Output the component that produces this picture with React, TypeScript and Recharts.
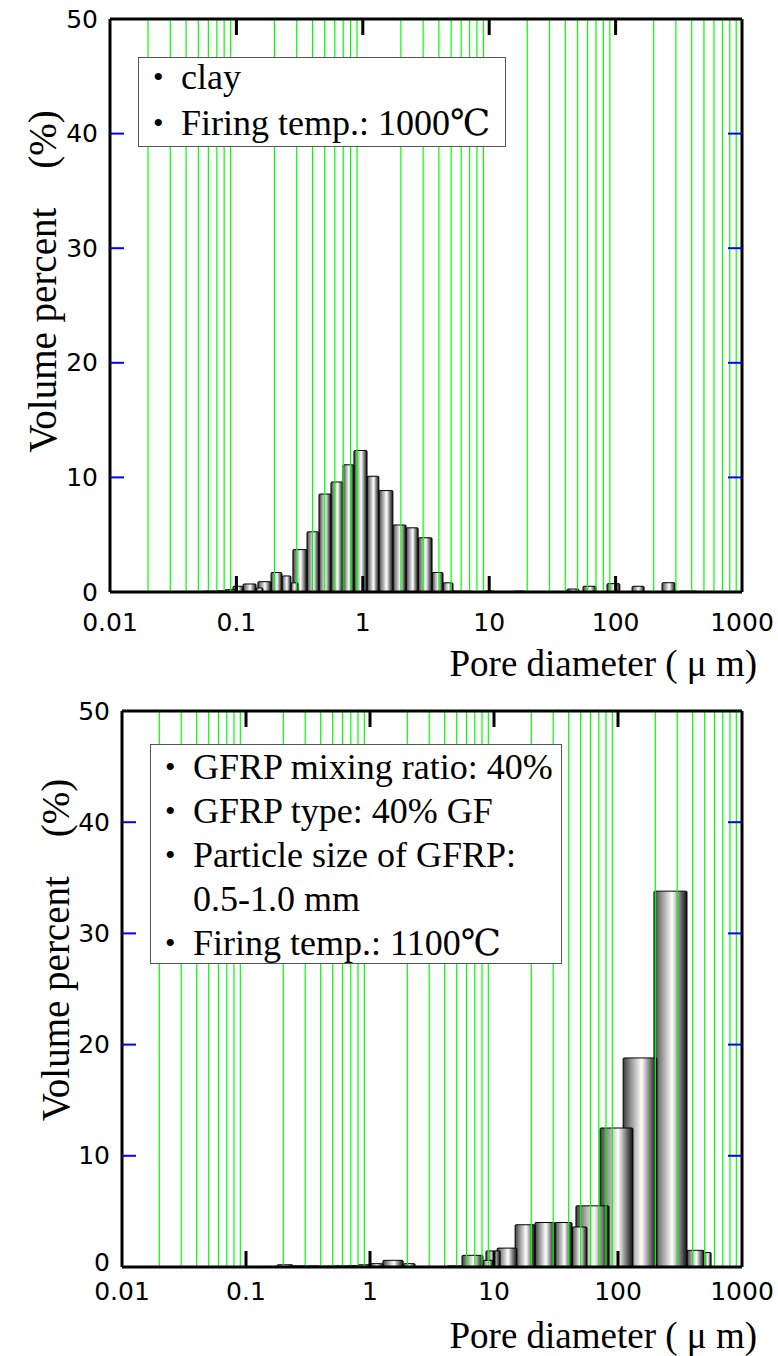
import React from "react";
import { ComposedChart, XAxis, YAxis, ReferenceArea, ReferenceLine, Label, Scatter } from "recharts";

const SERIF = '"Liberation Serif", "DejaVu Serif", "Times New Roman", "Noto Sans CJK JP", serif';
const SANS = '"DejaVu Sans", sans-serif';

const diameterTicks = [0.01, 0.1, 1, 10, 100, 1000];
const diameterTickLabels = ["0.01", "0.1", "1", "10", "100", "1000"];
const minorGrid = [0.01, 0.1, 1, 10, 100].flatMap((d) =>
  [2, 3, 4, 5, 6, 7, 8, 9].map((m) => +(d * m).toPrecision(2))
);
const percentTicks = [0, 10, 20, 30, 40, 50];
const percentTickLabels = ["0", "10", "20", "30", "40", "50"];

// clay fired at 1000C: pore-diameter bins (um) and volume percent
const clayBinFrom = [0.039, 0.047, 0.055, 0.068, 0.081, 0.094, 0.113, 0.143, 0.148, 0.188, 0.229, 0.27, 0.28, 0.362, 0.45, 0.56, 0.697, 0.851, 1.08, 1.34, 1.73, 2.2, 2.74, 3.53, 4.31, 5.08, 6.09, 9.26, 15.4, 41.3, 55.2, 85.5, 135, 233, 323];
const clayBinTo = [0.047, 0.055, 0.068, 0.081, 0.101, 0.113, 0.143, 0.162, 0.188, 0.229, 0.27, 0.307, 0.362, 0.45, 0.56, 0.697, 0.851, 1.08, 1.34, 1.73, 2.2, 2.74, 3.53, 4.31, 5.17, 6.09, 7.31, 11.1, 19.2, 51.3, 70, 108, 168, 295, 441];
const clayVolume = [0.05, 0.05, 0.08, 0.1, 0.2, 0.5, 0.7, 0.35, 0.9, 1.7, 1.4, 0.8, 3.7, 5.25, 8.55, 9.6, 11.1, 12.35, 10.1, 8.85, 5.85, 5.6, 4.73, 1.7, 0.8, 0.08, 0.08, 0.08, 0.08, 0.26, 0.5, 0.73, 0.5, 0.81, 0.08];

// GFRP 40% mix fired at 1100C
const gfrpBinFrom = [0.13, 0.178, 0.239, 0.31, 0.395, 0.503, 0.653, 0.8, 1.0, 1.27, 1.85, 2.31, 3.22, 4.18, 5.52, 8.15, 8.61, 10.6, 14.8, 21.4, 31, 42.6, 45.8, 71.6, 110, 195, 360, 494];
const gfrpBinTo = [0.178, 0.239, 0.31, 0.395, 0.503, 0.653, 0.8, 1.0, 1.27, 1.85, 2.31, 3.22, 4.18, 5.52, 8.15, 9.82, 11.2, 15.3, 21.4, 31, 42.6, 56.2, 84.6, 132, 206, 360, 494, 563];
const gfrpVolume = [0.05, 0.2, 0.1, 0.1, 0.08, 0.1, 0.12, 0.2, 0.3, 0.6, 0.3, 0.05, 0.05, 0.1, 1.05, 0.6, 1.45, 1.7, 3.8, 4.0, 4.0, 3.6, 5.5, 12.5, 18.8, 33.8, 1.5, 1.3];

const clayNotes = [
  { bullet: true, text: "clay" },
  { bullet: true, text: "Firing temp.: 1000℃" },
];
const gfrpNotes = [
  { bullet: true, text: "GFRP mixing ratio: 40%" },
  { bullet: true, text: "GFRP type: 40% GF" },
  { bullet: true, text: "Particle size of GFRP:" },
  { bullet: false, text: "0.5-1.0 mm" },
  { bullet: true, text: "Firing temp.: 1100℃" },
];

const border = { stroke: "#000", strokeWidth: 3 };

type PanelProps = {
  id: string;
  height: number;
  margin: { top: number; right: number; bottom: number; left: number };
  yAxisWidth: number;
  from: number[];
  to: number[];
  volume: number[];
  xTickGap: number;
  zeroLift: number;
  xTitleGap: number;
  yTitleX: number;
  yTitleShift: number;
};

function PorePanel(p: PanelProps) {
  const gid = `cyl-${p.id}`;
  // right-most first so the smaller left bins end up in front
  const bins = p.from.map((lo, i) => ({ lo, hi: p.to[i], v: p.volume[i] })).reverse();

  const Cylinder = (s: any) => {
    const { x, y, width, height } = s;
    if (x == null || width == null || isNaN(x)) return null;
    return (
      <rect x={x} y={y} width={width} height={Math.max(height, 0.5)} fill={`url(#${gid})`} stroke="#000" strokeWidth={1} rx={1} />
    );
  };

  const bottomTick = (t: any) => {
    const i = diameterTicks.indexOf(t.payload.value);
    const inner = i > 0 && i < diameterTicks.length - 1;
    return (
      <g>
        {inner && <line x1={t.x} x2={t.x} y1={t.y} y2={t.y - 16} stroke="#000" strokeWidth={3} />}
        <text x={t.x} y={t.y + p.xTickGap} textAnchor="middle" dominantBaseline="central" fontFamily={SANS} fontSize={25} fill="#000">
          {diameterTickLabels[i]}
        </text>
      </g>
    );
  };
  const topTick = (t: any) => {
    const i = diameterTicks.indexOf(t.payload.value);
    if (i <= 0 || i >= diameterTicks.length - 1) return <g />;
    return <line x1={t.x} x2={t.x} y1={t.y} y2={t.y + 16} stroke="#000" strokeWidth={3} />;
  };
  const leftTick = (t: any) => {
    const i = percentTicks.indexOf(t.payload.value);
    const inner = i > 0 && i < percentTicks.length - 1;
    const ty = i === 0 ? t.y - p.zeroLift : t.y;
    return (
      <g>
        {inner && <line x1={t.x} x2={t.x + 14} y1={t.y} y2={t.y} stroke="#0000ff" strokeWidth={2} />}
        <text x={t.x - 12} y={ty} textAnchor="end" dominantBaseline="central" fontFamily={SANS} fontSize={25} fill="#000">
          {percentTickLabels[i]}
        </text>
      </g>
    );
  };
  const rightTick = (t: any) => {
    const i = percentTicks.indexOf(t.payload.value);
    if (i <= 0 || i >= percentTicks.length - 1) return <g />;
    return <line x1={t.x} x2={t.x - 14} y1={t.y} y2={t.y} stroke="#0000ff" strokeWidth={2} />;
  };

  return (
    <ComposedChart width={778} height={p.height} margin={p.margin} data={bins}>
      <defs>
        <linearGradient id={gid} x1="0" y1="0" x2="1" y2="0">
          <stop offset="0%" stopColor="#3c3c3c" />
          <stop offset="20%" stopColor="#8a8a8a" />
          <stop offset="55%" stopColor="#ffffff" />
          <stop offset="85%" stopColor="#5a5a5a" />
          <stop offset="100%" stopColor="#111111" />
        </linearGradient>
      </defs>
      <XAxis
        dataKey="lo"
        type="number"
        scale="log"
        domain={[0.01, 1000]}
        allowDataOverflow
        ticks={diameterTicks}
        interval={0}
        height={60}
        tickSize={0}
        tickMargin={0}
        axisLine={border}
        tickLine={false}
        tick={bottomTick}
      >
        <Label
          content={(lp: any) => {
            const vb = lp.viewBox;
            return (
              <text x={vb.x + vb.width + 15} y={vb.y + p.xTitleGap} textAnchor="end" dominantBaseline="central" fontFamily={SERIF} fontSize={37} fill="#000">
                Pore diameter ( μ m)
              </text>
            );
          }}
        />
      </XAxis>
      <XAxis
        xAxisId="top"
        dataKey="lo"
        orientation="top"
        type="number"
        scale="log"
        domain={[0.01, 1000]}
        allowDataOverflow
        ticks={diameterTicks}
        interval={0}
        height={2}
        tickSize={0}
        tickMargin={0}
        axisLine={border}
        tickLine={false}
        tick={topTick}
      />
      <YAxis
        dataKey="v"
        type="number"
        domain={[0, 50]}
        allowDataOverflow
        ticks={percentTicks}
        interval={0}
        width={p.yAxisWidth}
        tickSize={0}
        tickMargin={0}
        axisLine={border}
        tickLine={false}
        tick={leftTick}
      >
        <Label
          content={(lp: any) => {
            const vb = lp.viewBox;
            const cy = vb.y + vb.height / 2 + p.yTitleShift;
            return (
              <text
                x={p.yTitleX}
                y={cy}
                transform={`rotate(-90 ${p.yTitleX} ${cy})`}
                textAnchor="middle"
                dominantBaseline="central"
                fontFamily={SERIF}
                fontSize={39}
                fill="#000"
                style={{ whiteSpace: "pre" }}
              >
                {"Volume percent    (%)"}
              </text>
            );
          }}
        />
      </YAxis>
      <YAxis
        yAxisId="right"
        dataKey="v"
        orientation="right"
        type="number"
        domain={[0, 50]}
        allowDataOverflow
        ticks={percentTicks}
        interval={0}
        width={2}
        tickSize={0}
        tickMargin={0}
        axisLine={border}
        tickLine={false}
        tick={rightTick}
      />
      {minorGrid.map((v) => (
        <ReferenceLine key={`g${v}`} x={v} stroke="#00ff00" strokeWidth={1.2} />
      ))}
      {bins.map((b, i) => (
        <ReferenceArea key={`b${i}`} x1={b.lo} x2={b.hi} y1={0} y2={b.v} shape={<Cylinder />} ifOverflow="visible" />
      ))}
      {/* anchor series for the axes; the cylinders themselves are the reference areas */}
      <Scatter dataKey="v" isAnimationActive={false} legendType="none" shape={() => <g />} />
    </ComposedChart>
  );
}

function NoteBox({ left, top, width, height, lines, lineHeight, padTop }: any) {
  return (
    <div
      style={{
        position: "absolute",
        left,
        top,
        width,
        height,
        boxSizing: "border-box",
        border: "1.5px solid #555",
        background: "#fff",
        fontFamily: SERIF,
        fontSize: 36,
        lineHeight: `${lineHeight}px`,
        color: "#000",
        whiteSpace: "nowrap",
        overflow: "hidden",
      }}
    >
      <div style={{ marginTop: padTop }}>
        {lines.map((l: any, i: number) => (
          <div key={i} style={{ position: "relative", paddingLeft: 42 }}>
            {l.bullet && (
              <span style={{ position: "absolute", left: 14, top: 0, fontSize: 30 }}>•</span>
            )}
            {l.text}
          </div>
        ))}
      </div>
    </div>
  );
}

export default function App() {
  return (
    <div style={{ position: "absolute", left: 0, top: 0, width: 778, height: 1356, background: "#fff" }}>
      <div style={{ position: "absolute", left: 0, top: 0 }}>
        <PorePanel
          id="clay"
          height={690}
          margin={{ top: 17, right: 34, bottom: 38, left: 0 }}
          yAxisWidth={110}
          from={clayBinFrom}
          to={clayBinTo}
          volume={clayVolume}
          xTickGap={30}
          zeroLift={0}
          xTitleGap={71}
          yTitleX={42}
          yTitleShift={-24}
        />
      </div>
      <div style={{ position: "absolute", left: 0, top: 690 }}>
        <PorePanel
          id="gfrp"
          height={666}
          margin={{ top: 19, right: 34, bottom: 29, left: 0 }}
          yAxisWidth={122}
          from={gfrpBinFrom}
          to={gfrpBinTo}
          volume={gfrpVolume}
          xTickGap={24}
          zeroLift={5}
          xTitleGap={68}
          yTitleX={55}
          yTitleShift={-39}
        />
      </div>
      <NoteBox left={138} top={57} width={368} height={90} lines={clayNotes} lineHeight={46} padTop={-4} />
      <NoteBox left={150} top={744} width={412} height={220} lines={gfrpNotes} lineHeight={44} padTop={0} />
    </div>
  );
}
